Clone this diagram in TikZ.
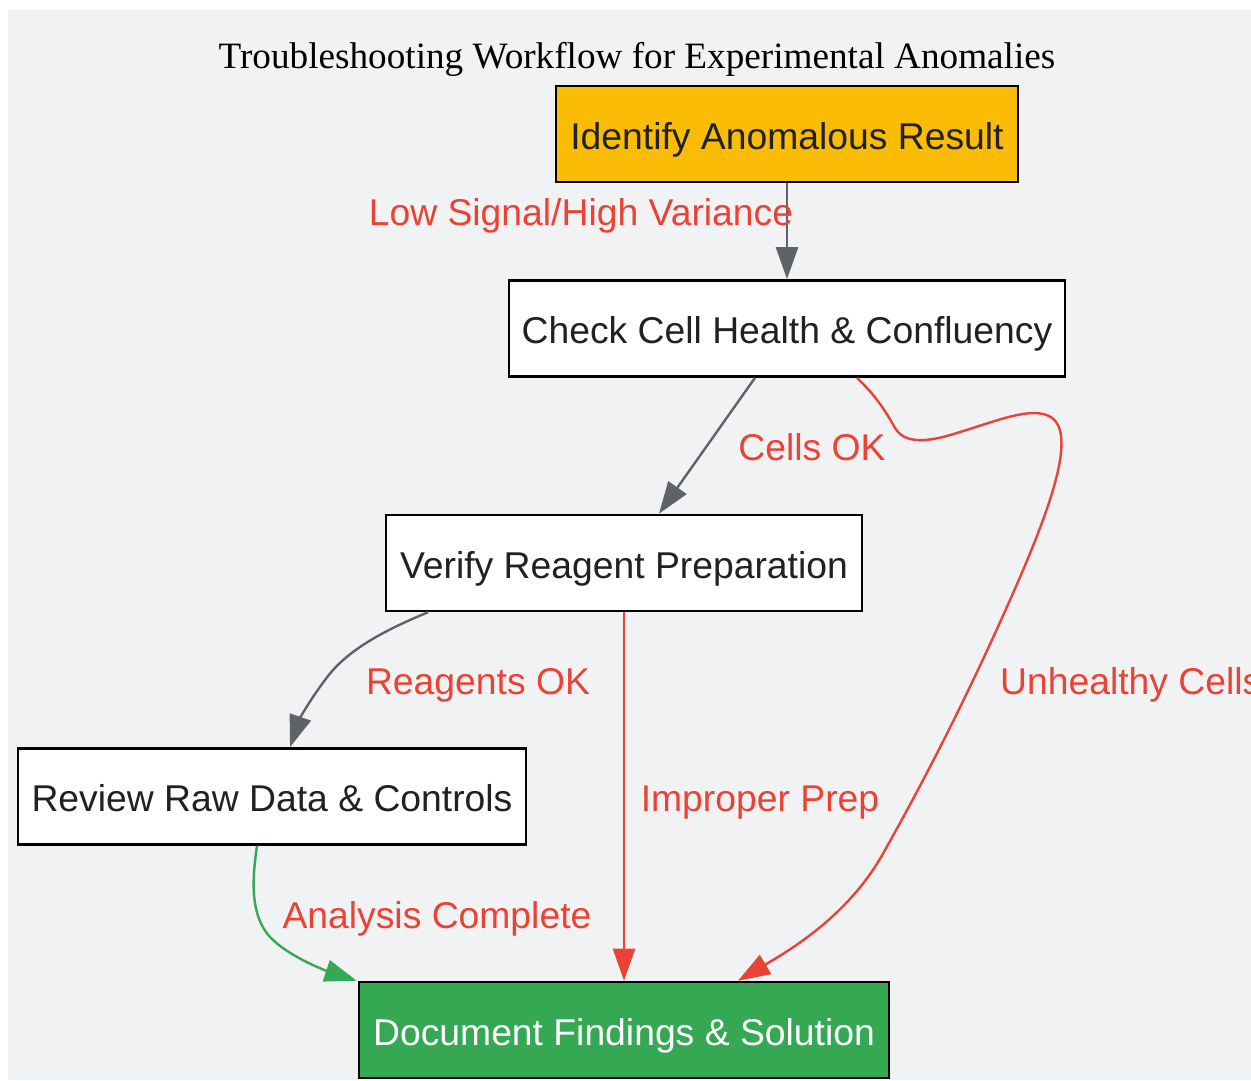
\documentclass[tikz,border=0pt]{standalone}
\usepackage{fontspec}
\setmainfont{Liberation Serif}
\newfontfamily\arialf{Liberation Sans}
\usetikzlibrary{arrows.meta}
\definecolor{bgc}{HTML}{F1F2F4}
\definecolor{ylw}{HTML}{FBBC05}
\definecolor{grn}{HTML}{34A853}
\definecolor{redc}{HTML}{EA4335}
\definecolor{gry}{HTML}{5F6368}
\definecolor{txt}{HTML}{202124}
\tikzset{
  box/.style={draw=black, line width=2.6pt, fill=white, text=txt, inner sep=0pt,
    minimum height=96pt, text height=30pt, text depth=0pt,
    font=\arialf\fontsize{37.3}{44}\selectfont},
  lbl/.style={text=redc, inner sep=0pt, text height=26pt, text depth=0pt,
    font=\arialf\fontsize{37.3}{44}\selectfont},
  edge/.style={line width=2.4pt, -{Triangle[length=32pt,width=22pt]}},
}
\begin{document}
\begin{tikzpicture}[x=1pt,y=-1pt]
\useasboundingbox (0,0) rectangle (1251,1080);
\fill[bgc] (8,10) rectangle (1251,1080);
\node[font=\fontsize{37.2}{44}\selectfont, anchor=base, inner sep=0pt] (title) at (637,68) {Troubleshooting Workflow for Experimental Anomalies};
\node[box, fill=ylw, minimum width=462pt] (identify) at (787,134) {Identify Anomalous Result};
\node[box, minimum width=556pt] (check) at (787,328.5) {Check Cell Health \& Confluency};
\node[box, minimum width=476pt] (verify) at (624,563) {Verify Reagent Preparation};
\node[box, minimum width=508pt] (review) at (272,796.5) {Review Raw Data \& Controls};
\node[box, fill=grn, text=white, minimum width=530pt] (doc) at (624,1030) {Document Findings \& Solution};
% edges
\draw[edge, gry] (identify.south) -- (check.north);
\draw[edge, gry] ([xshift=-32pt]check.south) -- ([xshift=35pt]verify.north);
\draw[edge, redc] ([xshift=70pt]check.south) .. controls (875,395) and (885,410) .. (895,428)
  .. controls (905,445) and (930,442) .. (960,432)
  .. controls (1000,420) and (1045,400) .. (1058,425)
  .. controls (1070,450) and (1050,510) .. (1010,600)
  .. controls (970,690) and (930,770) .. (885,850)
  .. controls (850,915) and (790,950) .. ([xshift=114pt]doc.north);
\draw[edge, gry] ([xshift=-196pt]verify.south) .. controls (380,632) and (345,652) .. (325,680)
  .. controls (310,700) and (300,718) .. ([xshift=18pt]review.north);
\draw[edge, redc] (verify.south) -- (doc.north);
\draw[edge, grn] ([xshift=-15pt]review.south) .. controls (252,880) and (250,915) .. (270,937)
  .. controls (290,958) and (330,972) .. ([xshift=-1pt]doc.north west);
% labels
\node[lbl] (l1) at (581,212) {Low Signal/High Variance};
\node[lbl] (l2) at (812,447) {Cells OK};
\node[lbl, anchor=west] (l3) at (1000,681) {Unhealthy Cells};
\node[lbl] (l4) at (478,681) {Reagents OK};
\node[lbl] (l5) at (760,798) {Improper Prep};
\node[lbl] (l6) at (437,915) {Analysis Complete};
\end{tikzpicture}
\end{document}
